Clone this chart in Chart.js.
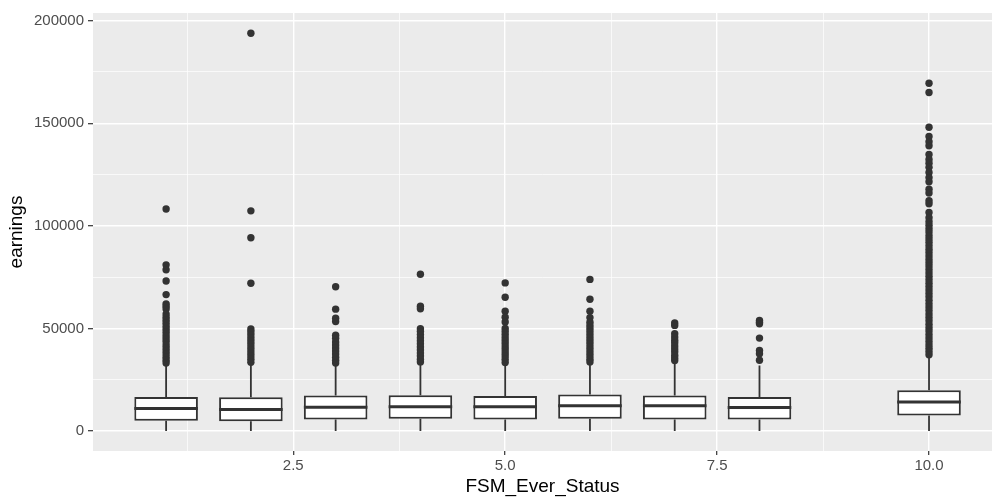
<!DOCTYPE html>
<html>
<head>
<meta charset="utf-8">
<script src="https://cdn.jsdelivr.net/npm/chart.js@4.4.0/dist/chart.umd.min.js"></script>
<style>
  html, body { margin: 0; padding: 0; background: #fff; }
  canvas { display: block; }
</style>
</head>
<body>
<canvas id="chart" width="992" height="497"></canvas>
<script>
// boxplot summary per FSM_Ever_Status group
const GROUPS = [1, 2, 3, 4, 5, 6, 7, 8, 10];
const LOWER  = [0, 0, 0, 0, 0, 0, 0, 0, 0];
const Q1     = [5000, 4800, 5700, 6000, 5700, 6000, 5700, 5700, 7600];
const MEDIAN = [11000, 10500, 11600, 11800, 11800, 12300, 12300, 11500, 14200];
const Q3     = [16600, 16500, 17300, 17500, 17100, 17800, 17300, 16600, 19900];
const UPPER  = [33000, 33000, 33000, 33600, 32800, 33600, 33000, 32000, 36400];

// outliers, one list per group
const OUT_1  = [108200, 81000, 78600, 73100, 66500, 62000, 60800, 59500, 57000, 55500, 54000, 52600, 51000, 49500, 48000, 46500, 45000, 43600, 42000, 40500, 39000, 37600, 36000, 34500, 33200];
const OUT_2  = [193800, 107300, 94200, 72000, 49800, 48400, 47000, 45500, 44000, 42600, 41000, 39500, 38000, 36600, 35000, 33500];
const OUT_3  = [70300, 59400, 55000, 53400, 46700, 45200, 43400, 42000, 40500, 39000, 37600, 36000, 34500, 33200];
const OUT_4  = [76400, 60800, 59600, 49900, 48500, 47000, 45500, 44000, 42600, 41000, 39500, 38000, 36600, 35000, 33700];
const OUT_5  = [72200, 65200, 58400, 55500, 53200, 50000, 48500, 47000, 45500, 44000, 42600, 41000, 39500, 38000, 36600, 35000, 33400];
const OUT_6  = [73900, 64200, 58400, 55300, 53000, 51500, 50000, 48500, 47000, 45500, 44000, 42600, 41000, 39500, 38000, 36600, 35000, 33700];
const OUT_7  = [52700, 51500, 47400, 45800, 44300, 43000, 41500, 40000, 38600, 37000, 35600, 34400];
const OUT_8  = [53900, 53000, 52300, 45300, 39300, 37700, 34500];
const OUT_10 = [169500, 165000, 148000, 143500, 141000, 139000, 134800, 132300, 130500, 128500, 126000, 123500, 121500,
  117800, 116000, 112200, 110800, 106500, 104000, 102000, 100300, 98600, 97000, 95200, 93600, 92000, 90300, 88600,
  87000, 85300, 83600, 82000, 80400, 78700, 77000, 75400, 73700, 72000, 70400, 68800, 67000, 65400, 63700, 62000,
  60400, 58800, 57000, 55400, 53700, 52000, 50400, 48800, 47000, 45400, 43700, 42000, 40400, 38800, 37200];
const OUTLIERS = [OUT_1, OUT_2, OUT_3, OUT_4, OUT_5, OUT_6, OUT_7, OUT_8, OUT_10];

// axes
const X_TICKS = [1.25, 2.5, 3.75, 5, 6.25, 7.5, 8.75, 10];
const X_LABELED = [2.5, 5, 7.5, 10];
const Y_TICKS = [0, 25000, 50000, 75000, 100000, 125000, 150000, 175000, 200000];
const Y_LABELED = [0, 50000, 100000, 150000, 200000];

const X_MIN = 0.1375, X_MAX = 10.743, Y_MIN = -9700, Y_MAX = 203700;
const BOX_HALF = 0.375;

const INK = '#333333';
const PANEL = '#EBEBEB';
const FONT = "'Liberation Sans', Arial, Helvetica, sans-serif";

const whiskerPts = [], medianPts = [], outlierPts = [];
GROUPS.forEach(function (g, i) {
  whiskerPts.push({x: g, y: LOWER[i]}, {x: g, y: Q1[i]}, {x: g, y: null});
  whiskerPts.push({x: g, y: Q3[i]}, {x: g, y: UPPER[i]}, {x: g, y: null});
  medianPts.push({x: g - BOX_HALF, y: MEDIAN[i]}, {x: g + BOX_HALF, y: MEDIAN[i]}, {x: g, y: null});
  OUTLIERS[i].forEach(function (v) { outlierPts.push({x: g, y: v}); });
});
const boxPts = GROUPS.map(function (g, i) { return {x: g, y: [Q1[i], Q3[i]]}; });

const panelBg = {
  id: 'panelBg',
  beforeDraw: function (chart) {
    const ctx = chart.ctx, a = chart.chartArea;
    ctx.save();
    ctx.fillStyle = '#ffffff';
    ctx.fillRect(0, 0, chart.width, chart.height);
    ctx.fillStyle = PANEL;
    ctx.fillRect(a.left, a.top, a.right - a.left, a.bottom - a.top);
    ctx.restore();
  }
};

function isIn(list, v) {
  return list.some(function (t) { return Math.abs(t - v) < 1e-6; });
}

new Chart(document.getElementById('chart'), {
  type: 'scatter',
  data: {
    datasets: [{
      type: 'scatter',
      data: outlierPts,
      pointRadius: 3.7,
      pointBackgroundColor: INK,
      pointBorderWidth: 0,
      order: 0
    }, {
      type: 'line',
      data: medianPts,
      borderColor: INK,
      borderWidth: 3,
      borderCapStyle: 'butt',
      pointRadius: 0,
      spanGaps: false,
      order: 1
    }, {
      type: 'bar',
      data: boxPts,
      backgroundColor: '#ffffff',
      borderColor: INK,
      borderWidth: 2,
      borderSkipped: false,
      categoryPercentage: 1,
      barPercentage: 0.75,
      order: 2
    }, {
      type: 'line',
      data: whiskerPts,
      borderColor: INK,
      borderWidth: 1.8,
      pointRadius: 0,
      spanGaps: false,
      order: 3
    }]
  },
  options: {
    responsive: false,
    animation: false,
    layout: { autoPadding: false, padding: { top: 11, right: 0, bottom: 0, left: 0 } },
    plugins: { legend: { display: false }, tooltip: { enabled: false } },
    scales: {
      x: {
        type: 'linear',
        min: X_MIN,
        max: X_MAX,
        offset: false,
        afterBuildTicks: function (axis) { axis.ticks = X_TICKS.map(function (v) { return {value: v}; }); },
        afterFit: function (axis) {
          axis.height = 46;
          axis.paddingLeft = 0;
          axis.paddingRight = 0;
        },
        border: { display: false },
        grid: {
          offset: false,
          color: '#ffffff',
          lineWidth: function (c) { return isIn(X_LABELED, c.tick.value) ? 1.4 : 0.7; },
          drawTicks: true,
          tickLength: 4,
          tickWidth: 1.2,
          tickColor: function (c) { return isIn(X_LABELED, c.tick.value) ? INK : 'rgba(0,0,0,0)'; }
        },
        ticks: {
          autoSkip: false,
          maxRotation: 0,
          padding: 2,
          color: '#4D4D4D',
          font: { family: FONT, size: 15 },
          callback: function (v) { return isIn(X_LABELED, v) ? v.toFixed(1) : ''; }
        },
        title: {
          display: true,
          text: 'FSM_Ever_Status',
          color: '#000000',
          font: { family: FONT, size: 19, lineHeight: 1 },
          padding: { top: 0, bottom: 1 }
        }
      },
      y: {
        type: 'linear',
        min: Y_MIN,
        max: Y_MAX,
        afterBuildTicks: function (axis) { axis.ticks = Y_TICKS.map(function (v) { return {value: v}; }); },
        afterFit: function (axis) { axis.width = 93; },
        border: { display: false },
        grid: {
          color: '#ffffff',
          lineWidth: function (c) { return isIn(Y_LABELED, c.tick.value) ? 1.4 : 0.7; },
          drawTicks: true,
          tickLength: 5,
          tickWidth: 1.2,
          tickColor: function (c) { return isIn(Y_LABELED, c.tick.value) ? INK : 'rgba(0,0,0,0)'; }
        },
        ticks: {
          autoSkip: false,
          padding: 4,
          color: '#4D4D4D',
          font: { family: FONT, size: 15 },
          callback: function (v) { return isIn(Y_LABELED, v) ? String(v) : ''; }
        },
        title: {
          display: true,
          text: 'earnings',
          color: '#000000',
          font: { family: FONT, size: 19, lineHeight: 1 },
          padding: { top: 7, bottom: 0 }
        }
      }
    }
  },
  plugins: [panelBg]
});
</script>
</body>
</html>
